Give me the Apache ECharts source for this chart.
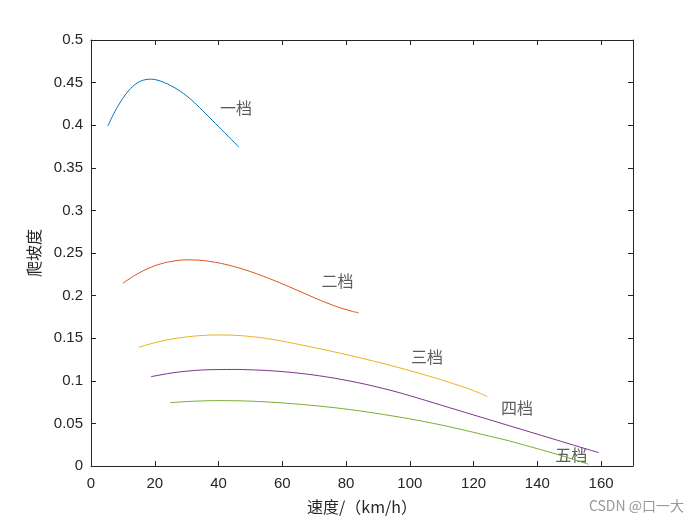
<!DOCTYPE html>
<html><head><meta charset="utf-8">
<script src="https://cdn.jsdelivr.net/npm/echarts@6/dist/echarts.min.js"></script>
<style>html,body{margin:0;padding:0;background:#fff}#c{width:700px;height:525px}</style>
</head><body><div id="c"></div>
<script>
// 一档
const gear1X = [5.3, 7, 9, 11, 13, 15, 17, 19, 21, 23, 25, 27, 29, 31, 33, 35, 37, 39, 41, 43, 45, 46.4];
const gear1Y = [0.399, 0.4125, 0.4258, 0.4368, 0.4452, 0.4506, 0.4534, 0.4540, 0.4527, 0.4500, 0.4465, 0.4423, 0.4372, 0.4313, 0.4245, 0.4172, 0.4097, 0.4021, 0.3945, 0.3870, 0.3795, 0.3742];
// 二档
const gear2X = [10, 14, 18, 22, 26, 30, 34, 38, 42, 46, 50, 54, 58, 62, 66, 70, 74, 78, 82, 84];
const gear2Y = [0.2145, 0.2243, 0.2320, 0.2374, 0.2406, 0.2419, 0.2415, 0.2397, 0.2368, 0.2329, 0.2282, 0.2228, 0.2169, 0.2106, 0.2041, 0.1976, 0.1914, 0.1859, 0.1815, 0.1797];
// 三档
const gear3X = [15, 20, 25, 30, 35, 40, 45, 50, 55, 60, 65, 70, 75, 80, 85, 90, 95, 100, 105, 110, 115, 120, 124.3];
const gear3Y = [0.1393, 0.1447, 0.1487, 0.1515, 0.1532, 0.1538, 0.1534, 0.1520, 0.1497, 0.1465, 0.1428, 0.1390, 0.1350, 0.1308, 0.1264, 0.1218, 0.1170, 0.1119, 0.1066, 0.1010, 0.0950, 0.0884, 0.0815];
// 四档
const gear4X = [18.8, 25, 30, 35, 40, 45, 50, 55, 60, 65, 70, 75, 80, 85, 90, 95, 100, 105, 110, 115, 120, 125, 130, 135, 140, 145, 150, 155, 159.2];
const gear4Y = [0.1048, 0.1090, 0.1113, 0.1127, 0.1132, 0.1133, 0.1129, 0.1121, 0.1108, 0.1090, 0.1067, 0.1039, 0.1006, 0.0968, 0.0925, 0.0878, 0.0825, 0.0769, 0.0712, 0.0656, 0.0599, 0.0543, 0.0486, 0.0430, 0.0373, 0.0317, 0.0260, 0.0204, 0.0158];
// 五档
const gear5X = [24.8, 30, 35, 40, 45, 50, 55, 60, 65, 70, 75, 80, 85, 90, 95, 100, 105, 110, 115, 120, 125, 130, 135, 140, 145, 150, 155, 156];
const gear5Y = [0.0743, 0.0756, 0.0764, 0.0767, 0.0766, 0.0761, 0.0752, 0.0740, 0.0726, 0.0709, 0.0690, 0.0668, 0.0643, 0.0615, 0.0585, 0.0553, 0.0518, 0.0480, 0.0439, 0.0395, 0.0350, 0.0306, 0.0255, 0.0203, 0.0150, 0.0093, 0.0033, 0.0021];

const gearNames = ['一档', '二档', '三档', '四档', '五档'];
const labelX = [45.5, 77.3, 105.4, 133.6, 150.6];
const labelY = [0.420, 0.2177, 0.1285, 0.0687, 0.0129];

const xTickMax = 170, yTickMax = 0.5;
const xName = '速度/（km/h）', yName = '爬坡度';
const watermark = 'CSDN @口一大';

const colors = ['#0072BD', '#D95319', '#EDB120', '#7E2F8E', '#77AC30'];
const xs = [gear1X, gear2X, gear3X, gear4X, gear5X];
const ys = [gear1Y, gear2Y, gear3Y, gear4Y, gear5Y];
const axisColor = '#262626';
const tickFont = {fontFamily: 'Liberation Sans', fontSize: 15, color: axisColor};

const series = xs.map((xArr, i) => ({
  type: 'line', name: gearNames[i], xAxisIndex: 0, yAxisIndex: 0,
  data: xArr.map((x, j) => [x, ys[i][j]]),
  smooth: 0.4, showSymbol: false, symbol: 'none',
  lineStyle: {color: colors[i], width: 1}, silent: true
}));
series.push({
  type: 'scatter', xAxisIndex: 0, yAxisIndex: 0, symbolSize: 0, silent: true,
  data: gearNames.map((n, i) => ({name: n, value: [labelX[i], labelY[i]]})),
  label: {show: true, position: 'inside', formatter: '{b}', fontFamily: 'Noto Sans CJK SC', fontSize: 16, color: '#333'}
});

const chart = echarts.init(document.getElementById('c'), null, {renderer: 'canvas'});
chart.setOption({
  animation: false,
  backgroundColor: '#fff',
  grid: {left: 91, right: 67, top: 40, bottom: 59, containLabel: false},
  xAxis: [{
    type: 'value', min: 0, max: xTickMax, interval: 20, position: 'bottom',
    name: xName, nameLocation: 'middle', nameGap: 33,
    nameTextStyle: {fontFamily: 'Noto Sans CJK SC', fontSize: 16, color: axisColor},
    axisLine: {show: true, lineStyle: {color: axisColor, width: 1}},
    axisTick: {show: true, inside: true, length: 5, lineStyle: {color: axisColor}},
    axisLabel: Object.assign({showMaxLabel: false, margin: 10}, tickFont),
    splitLine: {show: false}
  }, {
    type: 'value', min: 0, max: xTickMax, interval: 20, position: 'top',
    axisLine: {show: true, onZero: false, lineStyle: {color: axisColor, width: 1}},
    axisTick: {show: true, inside: true, length: 5, lineStyle: {color: axisColor}},
    axisLabel: {show: false}, splitLine: {show: false}
  }],
  yAxis: [{
    type: 'value', min: 0, max: yTickMax, interval: 0.05, position: 'left',
    name: yName, nameLocation: 'middle', nameGap: 49, nameRotate: 90,
    nameTextStyle: {fontFamily: 'Noto Sans CJK SC', fontSize: 16, color: axisColor},
    axisLine: {show: true, lineStyle: {color: axisColor, width: 1}},
    axisTick: {show: true, inside: true, length: 5, lineStyle: {color: axisColor}},
    axisLabel: Object.assign({margin: 8, formatter: v => String(+v.toFixed(2))}, tickFont),
    splitLine: {show: false}
  }, {
    type: 'value', min: 0, max: yTickMax, interval: 0.05, position: 'right',
    axisLine: {show: true, onZero: false, lineStyle: {color: axisColor, width: 1}},
    axisTick: {show: true, inside: true, length: 5, lineStyle: {color: axisColor}},
    axisLabel: {show: false}, splitLine: {show: false}
  }],
  graphic: [{
    type: 'text', right: 16, top: 499,
    style: {text: watermark, fontFamily: 'Noto Sans CJK SC', fontSize: 14, fill: '#999'}
  }],
  series: series
});
</script></body></html>
